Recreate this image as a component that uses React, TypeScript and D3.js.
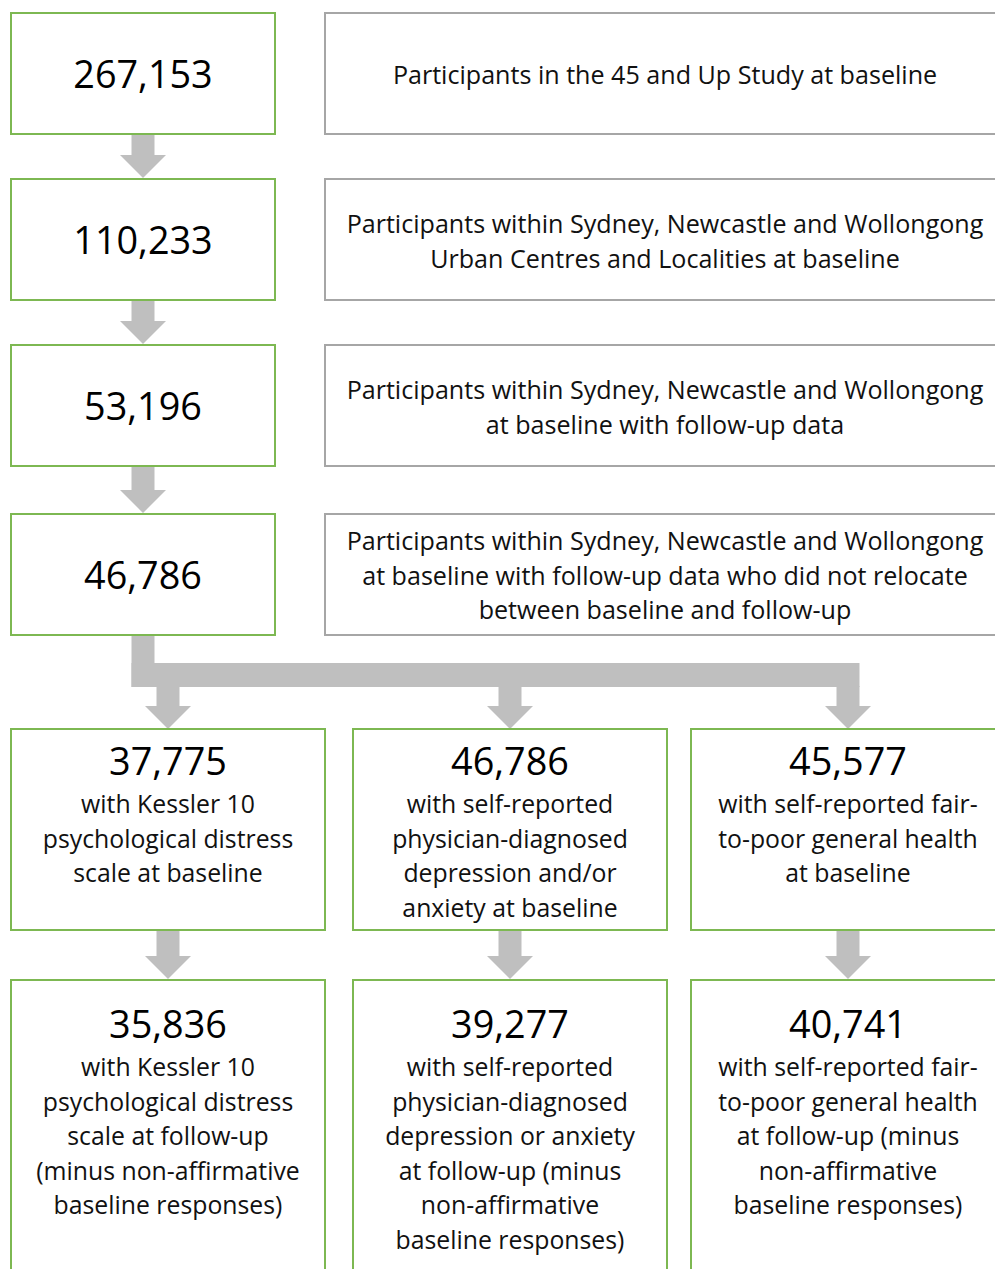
import React from "react";
import * as d3 from "d3";

// ---- data ----
const stepCounts = [267153, 110233, 53196, 46786];
const stepLabels: string[][] = [
  ["Participants in the 45 and Up Study at baseline"],
  ["Participants within Sydney, Newcastle and Wollongong", "Urban Centres and Localities at baseline"],
  ["Participants within Sydney, Newcastle and Wollongong", "at baseline with follow-up data"],
  [
    "Participants within Sydney, Newcastle and Wollongong",
    "at baseline with follow-up data who did not relocate",
    "between baseline and follow-up",
  ],
];
const baselineCounts = [37775, 46786, 45577];
const baselineLabels: string[][] = [
  ["with Kessler 10", "psychological distress", "scale at baseline"],
  ["with self-reported", "physician-diagnosed", "depression and/or", "anxiety at baseline"],
  ["with self-reported fair-", "to-poor general health", "at baseline"],
];
const followupCounts = [35836, 39277, 40741];
const followupLabels: string[][] = [
  ["with Kessler 10", "psychological distress", "scale at follow-up", "(minus non-affirmative", "baseline responses)"],
  ["with self-reported", "physician-diagnosed", "depression or anxiety", "at follow-up (minus", "non-affirmative", "baseline responses)"],
  ["with self-reported fair-", "to-poor general health", "at follow-up (minus", "non-affirmative", "baseline responses)"],
];

// ---- style ----
const GREEN = "#7DB852";
const GRAY = "#A6A6A6";
const ARROW = "#BFBFBF";
const FONT = "'Open Sans', sans-serif";
const fmt = d3.format(",");

const W = 995;
const H = 1269;

// layout
const stepTops = [13, 179, 345, 514];
const stepH = 121;
const leftX0 = 11, leftX1 = 275;
const rightX0 = 325, rightX1 = 1005;
const stepNumBase = [88, 254, 420, 589];
const stepTextFirst = [84, 233, 399, 550];
const lineH = 34.6;
const NUM_FS = 37.8;
const TOP_FS = 25.1;
const LOW_FS = 24.8;

const colX = d3.scaleOrdinal<number, number>().domain([0, 1, 2]).range([11, 353, 691]);
const colW = 314;
const colCenter = (i: number) => colX(i) + colW / 2;
const row5Top = 729, row5Bot = 930;
const row6Top = 980, row6Bot = 1300;

const shaftW = 23;
const headW = 46;
const headL = 23;

function arrowPath(cx: number, y0: number, y1: number) {
  const p = d3.path();
  const hy = y1 - headL;
  p.moveTo(cx - shaftW / 2, y0);
  p.lineTo(cx + shaftW / 2, y0);
  p.lineTo(cx + shaftW / 2, hy);
  p.lineTo(cx + headW / 2, hy);
  p.lineTo(cx, y1);
  p.lineTo(cx - headW / 2, hy);
  p.lineTo(cx - shaftW / 2, hy);
  p.closePath();
  return p.toString();
}

export default function App() {
  const leftC = (leftX0 + leftX1) / 2;
  const rightC = (rightX0 + rightX1) / 2;
  const barTop = 663, barBot = 687;
  const barRight = colCenter(2) + shaftW / 2;

  return (
    <svg
      width={W}
      height={H}
      viewBox={`0 0 ${W} ${H}`}
      style={{ position: "absolute", left: 0, top: 0, background: "#fff" }}
      fontFamily={FONT}
    >
      <rect x={0} y={0} width={W} height={H} fill="#fff" />
      {/* arrows between steps */}
      {stepTops.slice(0, -1).map((t, i) => (
        <path key={"sa" + i} d={arrowPath(leftC, t + stepH, stepTops[i + 1] - 1)} fill={ARROW} />
      ))}
      {/* branching connector */}
      <rect
        x={leftC - shaftW / 2}
        y={stepTops[3] + stepH}
        width={shaftW}
        height={barBot - (stepTops[3] + stepH)}
        fill={ARROW}
      />
      <rect x={leftC - shaftW / 2} y={barTop} width={barRight - (leftC - shaftW / 2)} height={barBot - barTop} fill={ARROW} />
      {[0, 1, 2].map((i) => (
        <path key={"ba" + i} d={arrowPath(colCenter(i), barBot - 1, row5Top)} fill={ARROW} />
      ))}
      {[0, 1, 2].map((i) => (
        <path key={"fa" + i} d={arrowPath(colCenter(i), row5Bot, row6Top - 1)} fill={ARROW} />
      ))}

      {/* step boxes */}
      {stepCounts.map((c, i) => (
        <g key={"s" + i}>
          <rect x={leftX0} y={stepTops[i]} width={leftX1 - leftX0} height={stepH} fill="#fff" stroke={GREEN} strokeWidth={2} />
          <text x={leftC} y={stepNumBase[i]} textAnchor="middle" fontSize={NUM_FS} fill="#000">
            {fmt(c)}
          </text>
          <rect x={rightX0} y={stepTops[i]} width={rightX1 - rightX0} height={stepH} fill="#fff" stroke={GRAY} strokeWidth={2} />
          {stepLabels[i].map((l, j) => (
            <text key={j} x={rightC} y={stepTextFirst[i] + j * lineH} textAnchor="middle" fontSize={TOP_FS} fill="#111">
              {l}
            </text>
          ))}
        </g>
      ))}

      {/* baseline boxes */}
      {baselineCounts.map((c, i) => (
        <g key={"b" + i}>
          <rect x={colX(i)} y={row5Top} width={colW} height={row5Bot - row5Top} fill="#fff" stroke={GREEN} strokeWidth={2} />
          <text x={colCenter(i)} y={775} textAnchor="middle" fontSize={NUM_FS} fill="#000">
            {fmt(c)}
          </text>
          {baselineLabels[i].map((l, j) => (
            <text key={j} x={colCenter(i)} y={813 + j * lineH} textAnchor="middle" fontSize={LOW_FS} fill="#111">
              {l}
            </text>
          ))}
        </g>
      ))}

      {/* follow-up boxes */}
      {followupCounts.map((c, i) => (
        <g key={"f" + i}>
          <rect x={colX(i)} y={row6Top} width={colW} height={row6Bot - row6Top} fill="#fff" stroke={GREEN} strokeWidth={2} />
          <text x={colCenter(i)} y={1038} textAnchor="middle" fontSize={NUM_FS} fill="#000">
            {fmt(c)}
          </text>
          {followupLabels[i].map((l, j) => (
            <text key={j} x={colCenter(i)} y={1076 + j * lineH} textAnchor="middle" fontSize={LOW_FS} fill="#111">
              {l}
            </text>
          ))}
        </g>
      ))}
    </svg>
  );
}
